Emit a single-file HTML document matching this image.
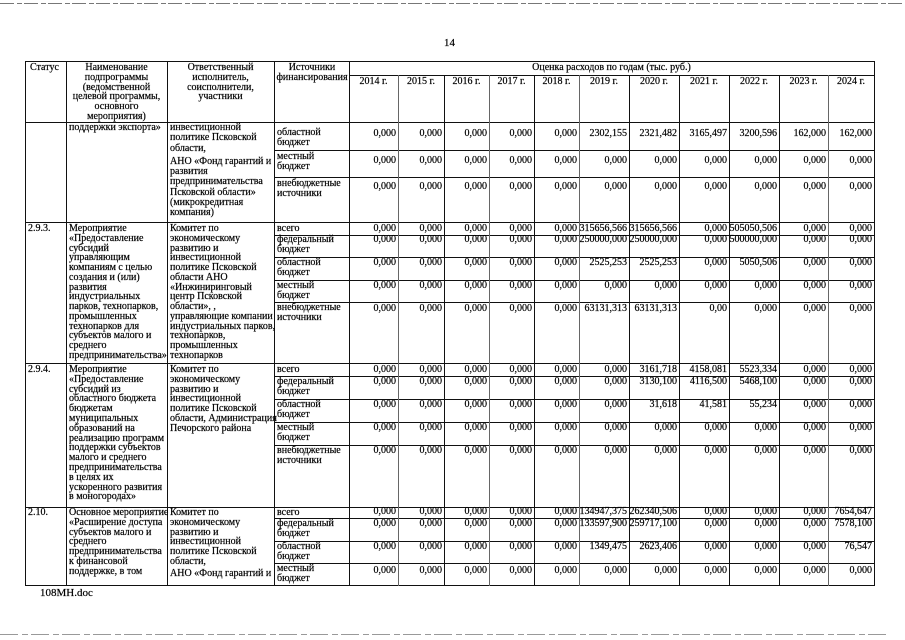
<!DOCTYPE html>
<html><head><meta charset="utf-8">
<style>
html,body{margin:0;padding:0;background:#fff;}
body{width:905px;height:640px;position:relative;overflow:hidden;font-family:"Liberation Serif","Noto Serif CJK SC",serif;color:#000;-webkit-text-stroke:0.2px #000;}
.t{position:absolute;font-size:10px;line-height:9.75px;white-space:nowrap;}
.c{text-align:center;}
.r{position:absolute;left:349px;width:525px;display:grid;grid-template-columns:49px 46px 45px 45px 45px 50px 50px 50px 50px 49px 46px;font-size:10px;line-height:10px;text-align:right;white-space:nowrap;}
.r span{padding-right:2px;}
.y{position:absolute;left:349px;width:525px;top:77px;display:grid;grid-template-columns:49px 46px 45px 45px 45px 50px 50px 50px 50px 49px 46px;font-size:10px;line-height:10px;text-align:center;white-space:nowrap;}
svg{position:absolute;left:0;top:0;}
</style></head><body>
<svg width="905" height="640" shape-rendering="crispEdges">
<line x1="0" y1="3.5" x2="905" y2="3.5" stroke="#777" stroke-width="1" stroke-dasharray="14 3 5 2"/>
<line x1="0" y1="634.5" x2="890" y2="634.5" stroke="#999" stroke-width="1" stroke-dasharray="18 4 6 3"/>
<g stroke="#111" stroke-width="1">
<line x1="25" y1="61.5" x2="875" y2="61.5"/>
<line x1="349" y1="75.5" x2="875" y2="75.5"/>
<line x1="25" y1="122.5" x2="875" y2="122.5"/>
<line x1="274" y1="150.5" x2="875" y2="150.5"/>
<line x1="274" y1="177.5" x2="875" y2="177.5"/>
<line x1="25" y1="222.5" x2="875" y2="222.5"/>
<line x1="274" y1="235.5" x2="875" y2="235.5"/>
<line x1="274" y1="257.5" x2="875" y2="257.5"/>
<line x1="274" y1="280.5" x2="875" y2="280.5"/>
<line x1="274" y1="302.5" x2="875" y2="302.5"/>
<line x1="25" y1="363.5" x2="875" y2="363.5"/>
<line x1="274" y1="376.5" x2="875" y2="376.5"/>
<line x1="274" y1="399.5" x2="875" y2="399.5"/>
<line x1="274" y1="422.5" x2="875" y2="422.5"/>
<line x1="274" y1="445.5" x2="875" y2="445.5"/>
<line x1="25" y1="507.5" x2="875" y2="507.5"/>
<line x1="274" y1="518.5" x2="875" y2="518.5"/>
<line x1="274" y1="541.5" x2="875" y2="541.5"/>
<line x1="274" y1="563.5" x2="875" y2="563.5"/>
<line x1="25" y1="585.5" x2="875" y2="585.5"/>
<line x1="25.5" y1="61" x2="25.5" y2="586"/>
<line x1="66.5" y1="61" x2="66.5" y2="586"/>
<line x1="167.5" y1="61" x2="167.5" y2="586"/>
<line x1="274.5" y1="61" x2="274.5" y2="586"/>
<line x1="349.5" y1="61" x2="349.5" y2="586"/>
<line x1="444.5" y1="75" x2="444.5" y2="586"/>
<line x1="534.5" y1="75" x2="534.5" y2="586"/>
<line x1="629.5" y1="75" x2="629.5" y2="586"/>
<line x1="679.5" y1="75" x2="679.5" y2="586"/>
<line x1="729.5" y1="75" x2="729.5" y2="586"/>
<line x1="779.5" y1="75" x2="779.5" y2="586"/>
<line x1="874.5" y1="61" x2="874.5" y2="586"/>
</g>
<g stroke="#666" stroke-width="1.3">
<line x1="398.5" y1="75" x2="398.5" y2="586"/>
<line x1="489.5" y1="75" x2="489.5" y2="586"/>
<line x1="579.5" y1="75" x2="579.5" y2="586"/>
<line x1="828.5" y1="75" x2="828.5" y2="586"/>
</g>
</svg>

<div class="t" style="left:444px;top:38px;font-size:11px;line-height:11px;">14</div>

<!-- header -->
<div class="t" style="left:30px;top:63px;">Статус</div>
<div class="t c" style="left:66px;width:101px;top:63px;">Наименование<br>подпрограммы<br>(ведомственной<br>целевой программы,<br>основного<br>мероприятия)</div>
<div class="t c" style="left:167px;width:107px;top:63px;">Ответственный<br>исполнитель,<br>соисполнители,<br>участники</div>
<div class="t c" style="left:274px;width:76px;top:63px;">Источники<br>финансирования</div>
<div class="t c" style="left:349px;width:525px;top:63px;">Оценка расходов по годам (тыс. руб.)</div>
<div class="y"><span>2014 г.</span><span>2015 г.</span><span>2016 г.</span><span>2017 г.</span><span>2018 г.</span><span>2019 г.</span><span>2020 г.</span><span>2021 г.</span><span>2022 г.</span><span>2023 г.</span><span>2024 г.</span></div>

<!-- block 0 -->
<div class="t" style="left:69px;top:123px;">поддержки экспорта»</div>
<div class="t" style="left:170px;top:123px;line-height:10.3px;">инвестиционной<br>политике Псковской<br>области,</div>
<div class="t" style="left:170px;top:157px;line-height:10.2px;">АНО «Фонд гарантий и<br>развития<br>предпринимательства<br>Псковской области»<br>(микрокредитная<br>компания)</div>
<div class="t" style="left:277px;top:128px;line-height:9.5px;">областной<br>бюджет</div>
<div class="t" style="left:277px;top:152px;line-height:9.5px;">местный<br>бюджет</div>
<div class="t" style="left:277px;top:179px;line-height:9.5px;">внебюджетные<br>источники</div>
<div class="r" style="top:129px"><span>0,000</span><span>0,000</span><span>0,000</span><span>0,000</span><span>0,000</span><span>2302,155</span><span>2321,482</span><span>3165,497</span><span>3200,596</span><span>162,000</span><span>162,000</span></div>
<div class="r" style="top:156px"><span>0,000</span><span>0,000</span><span>0,000</span><span>0,000</span><span>0,000</span><span>0,000</span><span>0,000</span><span>0,000</span><span>0,000</span><span>0,000</span><span>0,000</span></div>
<div class="r" style="top:182px"><span>0,000</span><span>0,000</span><span>0,000</span><span>0,000</span><span>0,000</span><span>0,000</span><span>0,000</span><span>0,000</span><span>0,000</span><span>0,000</span><span>0,000</span></div>

<!-- 2.9.3 -->
<div class="t" style="left:28px;top:224px;">2.9.3.</div>
<div class="t" style="left:69px;top:224px;">Мероприятие<br>«Предоставление<br>субсидий<br>управляющим<br>компаниям с целью<br>создания и (или)<br>развития<br>индустриальных<br>парков, технопарков,<br>промышленных<br>технопарков для<br>субъектов малого и<br>среднего<br>предпринимательства»</div>
<div class="t" style="left:170px;top:224px;">Комитет по<br>экономическому<br>развитию и<br>инвестиционной<br>политике Псковской<br>области АНО<br>«Инжиниринговый<br>центр Псковской<br>области», ,<br>управляющие компании<br>индустриальных парков,<br>технопарков,<br>промышленных<br>технопарков</div>
<div class="t" style="left:277px;top:224px;">всего</div>
<div class="t" style="left:277px;top:235px;line-height:9.5px;">федеральный<br>бюджет</div>
<div class="t" style="left:277px;top:258px;line-height:9.5px;">областной<br>бюджет</div>
<div class="t" style="left:277px;top:281px;line-height:9.5px;">местный<br>бюджет</div>
<div class="t" style="left:277px;top:303px;line-height:9.5px;">внебюджетные<br>источники</div>
<div class="r" style="top:224px"><span>0,000</span><span>0,000</span><span>0,000</span><span>0,000</span><span>0,000</span><span>315656,566</span><span>315656,566</span><span>0,000</span><span>505050,506</span><span>0,000</span><span>0,000</span></div>
<div class="r" style="top:235px"><span>0,000</span><span>0,000</span><span>0,000</span><span>0,000</span><span>0,000</span><span>250000,000</span><span>250000,000</span><span>0,000</span><span>500000,000</span><span>0,000</span><span>0,000</span></div>
<div class="r" style="top:258px"><span>0,000</span><span>0,000</span><span>0,000</span><span>0,000</span><span>0,000</span><span>2525,253</span><span>2525,253</span><span>0,000</span><span>5050,506</span><span>0,000</span><span>0,000</span></div>
<div class="r" style="top:281px"><span>0,000</span><span>0,000</span><span>0,000</span><span>0,000</span><span>0,000</span><span>0,000</span><span>0,000</span><span>0,000</span><span>0,000</span><span>0,000</span><span>0,000</span></div>
<div class="r" style="top:304px"><span>0,000</span><span>0,000</span><span>0,000</span><span>0,000</span><span>0,000</span><span>63131,313</span><span>63131,313</span><span>0,00</span><span>0,000</span><span>0,000</span><span>0,000</span></div>

<!-- 2.9.4 -->
<div class="t" style="left:28px;top:365px;">2.9.4.</div>
<div class="t" style="left:69px;top:365px;line-height:9.8px;">Мероприятие<br>«Предоставление<br>субсидий из<br>областного бюджета<br>бюджетам<br>муниципальных<br>образований на<br>реализацию программ<br>поддержки субъектов<br>малого и среднего<br>предпринимательства<br>в целях их<br>ускоренного развития<br>в моногородах»</div>
<div class="t" style="left:170px;top:365px;line-height:9.8px;">Комитет по<br>экономическому<br>развитию и<br>инвестиционной<br>политике Псковской<br>области, Администрация<br>Печорского района</div>
<div class="t" style="left:277px;top:365px;">всего</div>
<div class="t" style="left:277px;top:377px;line-height:9.5px;">федеральный<br>бюджет</div>
<div class="t" style="left:277px;top:400px;line-height:9.5px;">областной<br>бюджет</div>
<div class="t" style="left:277px;top:423px;line-height:9.5px;">местный<br>бюджет</div>
<div class="t" style="left:277px;top:446px;line-height:9.5px;">внебюджетные<br>источники</div>
<div class="r" style="top:365px"><span>0,000</span><span>0,000</span><span>0,000</span><span>0,000</span><span>0,000</span><span>0,000</span><span>3161,718</span><span>4158,081</span><span>5523,334</span><span>0,000</span><span>0,000</span></div>
<div class="r" style="top:377px"><span>0,000</span><span>0,000</span><span>0,000</span><span>0,000</span><span>0,000</span><span>0,000</span><span>3130,100</span><span>4116,500</span><span>5468,100</span><span>0,000</span><span>0,000</span></div>
<div class="r" style="top:400px"><span>0,000</span><span>0,000</span><span>0,000</span><span>0,000</span><span>0,000</span><span>0,000</span><span>31,618</span><span>41,581</span><span>55,234</span><span>0,000</span><span>0,000</span></div>
<div class="r" style="top:423px"><span>0,000</span><span>0,000</span><span>0,000</span><span>0,000</span><span>0,000</span><span>0,000</span><span>0,000</span><span>0,000</span><span>0,000</span><span>0,000</span><span>0,000</span></div>
<div class="r" style="top:446px"><span>0,000</span><span>0,000</span><span>0,000</span><span>0,000</span><span>0,000</span><span>0,000</span><span>0,000</span><span>0,000</span><span>0,000</span><span>0,000</span><span>0,000</span></div>

<!-- 2.10 -->
<div class="t" style="left:28px;top:508px;">2.10.</div>
<div class="t" style="left:69px;top:508px;line-height:9.8px;">Основное мероприятие<br>«Расширение доступа<br>субъектов малого и<br>среднего<br>предпринимательства<br>к финансовой<br>поддержке, в том</div>
<div class="t" style="left:170px;top:508px;line-height:9.8px;">Комитет по<br>экономическому<br>развитию и<br>инвестиционной<br>политике Псковской<br>области,</div>
<div class="t" style="left:170px;top:569px;">АНО «Фонд гарантий и</div>
<div class="t" style="left:277px;top:508px;">всего</div>
<div class="t" style="left:277px;top:519px;line-height:9.5px;">федеральный<br>бюджет</div>
<div class="t" style="left:277px;top:542px;line-height:9.5px;">областной<br>бюджет</div>
<div class="t" style="left:277px;top:564px;line-height:9.5px;">местный<br>бюджет</div>
<div class="r" style="top:507px"><span>0,000</span><span>0,000</span><span>0,000</span><span>0,000</span><span>0,000</span><span>134947,375</span><span>262340,506</span><span>0,000</span><span>0,000</span><span>0,000</span><span>7654,647</span></div>
<div class="r" style="top:519px"><span>0,000</span><span>0,000</span><span>0,000</span><span>0,000</span><span>0,000</span><span>133597,900</span><span>259717,100</span><span>0,000</span><span>0,000</span><span>0,000</span><span>7578,100</span></div>
<div class="r" style="top:542px"><span>0,000</span><span>0,000</span><span>0,000</span><span>0,000</span><span>0,000</span><span>1349,475</span><span>2623,406</span><span>0,000</span><span>0,000</span><span>0,000</span><span>76,547</span></div>
<div class="r" style="top:566px"><span>0,000</span><span>0,000</span><span>0,000</span><span>0,000</span><span>0,000</span><span>0,000</span><span>0,000</span><span>0,000</span><span>0,000</span><span>0,000</span><span>0,000</span></div>

<div class="t" style="left:40px;top:588px;font-size:11px;line-height:11px;">108МН.doc</div>
</body></html>
